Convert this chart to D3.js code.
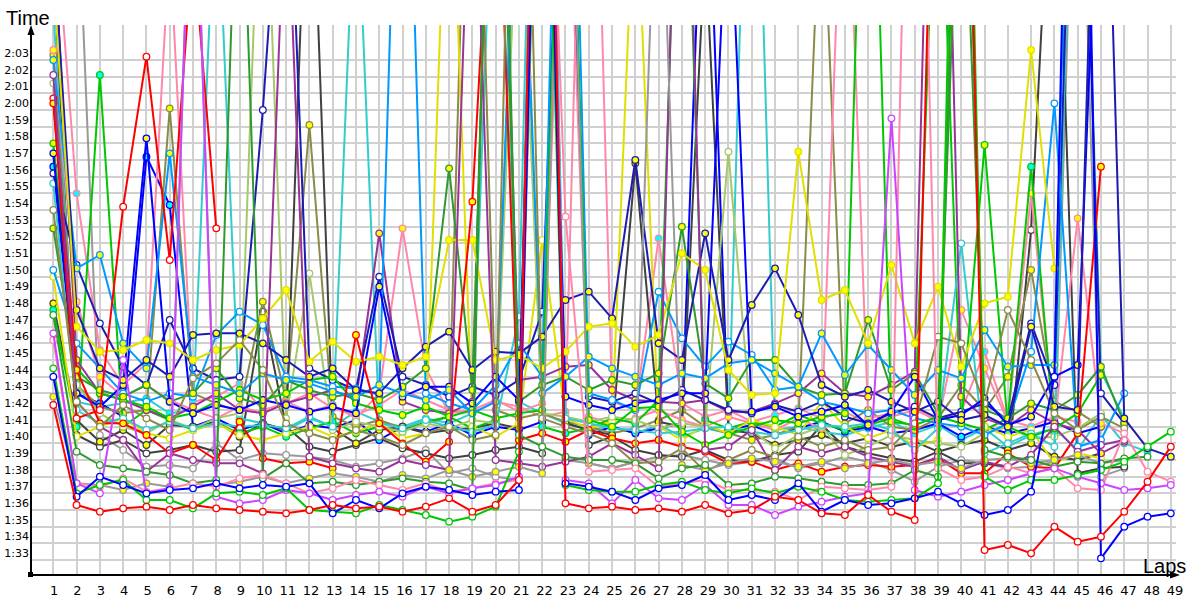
<!DOCTYPE html>
<html><head><meta charset="utf-8">
<script src="https://cdn.jsdelivr.net/npm/d3@7"></script>
<style>html,body{margin:0;padding:0;background:#fff;} svg{display:block;}</style>
</head><body><svg id="chart" width="1200" height="600"></svg>
<script>
// ---------- data (lap times in seconds) ----------
const laps = d3.range(1, 50);
const yTickLabels = ["1:33","1:34","1:35","1:36","1:37","1:38","1:39","1:40","1:41","1:42","1:43","1:44","1:45","1:46","1:47","1:48","1:49","1:50","1:51","1:52","1:53","1:54","1:55","1:56","1:57","1:58","1:59","2:00","2:01","2:02","2:03"];

const s01 = [102.3,96.3,95.9,96.1,96.2,96.0,96.3,96.1,96.0,95.9,95.8,96.0,96.3,96.1,96.2,95.9,96.2,96.7,95.9,96.3,97.8,165,96.4,96.1,96.2,96.0,96.1,95.9,96.3,95.8,96.0,96.8,96.6,95.8,95.7,96.9,95.9,95.4,150,160,93.6,93.9,93.4,95.0,94.1,94.4,95.9,97.7,99.8];
const s02 = [104.0,96.8,98.0,97.5,97.0,97.2,97.3,97.6,97.3,97.5,97.4,97.6,95.8,96.6,96.1,97.0,97.4,97.2,96.9,97.1,97.2,155,97.6,97.4,97.1,96.6,97.3,97.5,98.1,96.6,96.9,96.6,97.6,95.9,96.6,96.3,96.4,96.7,97.1,96.4,95.7,96.0,97.1,104.0,170,93.1,95.0,95.6,95.8];
const s03 = [104.5,97.0,97.5,97.8,96.6,96.6,96.1,97.0,97.1,96.9,97.3,96.0,95.9,95.8,96.3,96.0,95.7,95.3,95.6,96.2,99.5,150,97.5,97.2,97.1,97.1,97.5,97.7,97.2,97.0,97.3,97.0,97.4,97.1,96.6,96.5,96.6,96.7,97.6,160,98.0,97.2,97.8,97.8,98.1,98.4,98.9,99.8,100.7];
const s04 = [106.6,97.6,97.0,105.0,97.0,97.3,140,96.8,96.4,96.6,97.2,97.0,96.6,96.9,97.1,96.8,97.4,97.0,97.3,97.5,98.0,165,97.8,97.6,96.4,97.8,96.7,96.6,97.5,96.3,96.3,95.7,96.2,96.5,96.8,97.0,119.5,97.2,96.8,97.1,97.5,97.8,98.2,98.5,98.0,97.6,97.2,97.3,97.5];
const s05 = [106.2,97.6,97.4,97.9,97.1,97.3,97.6,97.4,97.9,98.1,97.6,97.0,97.3,97.8,97.5,97.2,97.6,97.1,97.3,97.6,97.8,150,113.6,98.3,98.4,98.5,97.4,97.6,97.8,97.2,97.2,97.1,96.6,97.4,97.3,97.2,97.4,160,98.5,97.8,98.0,98.6,98.2,98.5,97.3,97.2,100.6,98.3,97.7];
const s06 = [127,135,100.5,99.6,98.6,98.7,98.5,100.0,99.0,99.4,99.3,99.2,99.0,98.6,98.8,99.1,99.6,98.2,98.5,98.0,97.8,170,99.0,98.8,98.5,98.9,99.2,99.3,99.0,98.7,98.9,99.1,98.5,98.8,99.2,98.9,98.4,97.7,98.6,99.0,98.8,98.5,98.6,98.9,145,98.0,98.5];
const s07 = [107.7,99.5,98.7,98.5,98.3,98.1,97.6,97.8,140,97.9,98.8,97.6,97.7,97.5,97.7,97.9,97.7,97.6,97.2,160,100.5,99.8,99.2,99.0,99.0,98.8,97.9,98.5,98.7,97.5,97.6,98.0,97.9,97.7,97.5,97.5,97.6,98.4,98.0,150,99.6,99.2,99.0,98.6,98.9,98.8,99.1,99.2];
const s08 = [114.0,102.5,101.0,102.3,101.5,100.8,103.9,104.8,106.2,104.4,101.2,100.6,100.2,100.8,100.4,99.9,100.6,101.0,100.2,100.5,160,101.5,101.0,100.6,100.0,98.8,98.9,99.7,98.3,99.0,99.6,99.2,100.4,99.8,100.2,99.6,99.8,101.2,106.4,106.0,102.4,108.0,105.0,101.8,100.8,101.6,100.9];
const s09 = [129,100.5,99.8,100.2,99.4,99.6,99.9,99.5,99.6,107.9,101.0,99.8,99.5,99.9,100.3,99.7,99.4,99.1,99.3,99.6,99.8,99.4,150,99.9,100.4,99.6,99.3,99.2,99.6,99.0,98.9,99.3,99.5,101.1,99.8,99.4,99.1,98.9,99.5,98.8,98.8,98.6,112.8,140,98.2,98.5,98.6];
const s10 = [115.6,102.0,101.2,101.5,100.8,101.3,100.9,101.2,101.0,101.1,100.9,101.6,101.0,135,101.2,100.9,101.4,101.0,100.7,101.1,107.6,165,101.5,101.2,100.9,100.8,100.6,100.7,100.9,101.0,100.7,100.5,100.8,101.1,101.0,101.2,100.8,99.6,100.9,112.0,99.4,100.0,100.6,99.8,150,104.3,101.5];
const s11 = [110.4,106.0,104.5,103.0,102.5,103.0,102.8,106.5,107.9,107.1,104.0,103.8,103.4,103.3,102.9,150,103.0,102.4,102.0,103.5,106.0,104.0,160,103.0,102.6,102.0,109.1,106.3,104.6,106.1,105.3,103.2,103.4,102.5,102.2,101.8,102.0,101.5,101.2,101.0,100.5,101.2,105.5,120.4,99.8,100.2,103.0];
const s12 = [121.6,103.5,101.8,101.0,100.6,101.4,100.9,101.5,101.8,140,101.5,110.2,100.8,101.3,101.0,100.7,101.2,100.9,101.4,101.2,135,101.8,101.6,101.3,101.6,101.4,100.9,101.2,101.0,117.5,100.8,99.7,100.5,101.0,99.3,99.8,100.5,100.2,100.0,99.8,100.6,101.0,100.3,100.4,100.9,101.8];
const s13 = [130,108.0,104.5,103.8,105.0,104.0,106.5,106.6,106.6,106.0,105.0,104.0,104.5,103.2,103.0,104.5,105.8,106.7,104.4,105.5,105.4,106.4,108.6,109.1,107.5,117.0,106.0,105.0,112.6,105.0,108.3,110.5,107.7,103.5,102.8,103.2,102.5,101.9,102.5,101.4,101.7,101.0,107.0,102.2,102.0,150,101.5,99.7,99.2];
const s14 = [117.4,103.0,102.2,103.5,118.3,102.5,101.8,102.3,102.0,102.6,102.3,101.9,102.2,101.8,109.4,102.8,103.4,103.4,102.4,104.0,102.6,150,102.8,102.3,102.0,102.4,102.6,103.0,103.0,135,101.9,102.2,101.6,101.9,102.3,101.1,101.9,104.0,101.4,101.7,102.7,101.1,101.6,104.0,104.7,140];
const s15 = [123.0,110.5,111.3,106.0,104.5,117.4,104.0,103.5,103.0,104.2,103.8,103.6,103.1,102.8,103.5,103.0,102.6,103.2,101.8,102.5,140,103.0,104.0,105.2,104.5,104.0,103.5,104.2,103.9,104.8,105.0,104.2,103.4,106.6,104.1,105.9,104.4,102.9,104.4,103.9,106.8,104.6,104.7,104.7,160];
const s16 = [128,107.0,105.5,105.6,106.2,106.0,105.0,105.6,105.9,107.5,109.2,104.9,106.1,104.9,105.2,104.7,105.2,112.2,112.2,105.0,105.3,104.5,105.5,107.0,107.2,105.8,106.5,111.4,110.4,104.4,102.9,103.0,117.5,108.6,109.2,106.0,110.7,106.0,109.4,104.6,108.4,108.8,123.6,110.5];
const s17 = [118.0,104.5,103.0,102.6,102.2,101.5,101.8,102.5,103.2,102.6,103.0,103.8,104.0,102.4,102.0,101.7,102.2,101.6,102.0,101.5,101.8,102.0,150,101.4,101.0,102.1,102.2,100.7,99.9,100.5,101.0,101.4,101.2,101.6,101.8,150,101.3,101.1,101.6,101.2,117.9,101.0,100.4,100.9,101.8,104.1];
const s18 = [112.9,104.0,103.2,102.8,103.5,102.5,103.0,104.5,102.7,102.3,103.8,103.2,102.8,103.0,102.6,103.4,104.5,116.5,103.2,150,102.5,103.5,104.0,103.2,103.8,103.5,104.2,113.0,103.6,102.7,105.0,105.0,103.4,102.9,103.0,107.4,103.2,104.2,101.8,140,102.0,101.5,102.4,102.0,102.9,104.6,101.2];
const s19 = [122.1,102.5,101.0,100.2,98.3,99.4,99.0,98.8,98.8,98.2,135,99.2,98.8,98.5,98.3,99.0,98.7,98.4,140,99.0,98.8,98.6,98.9,99.2,100.0,99.3,98.5,150,99.6,99.8,100.8,98.4,99.8,99.4,99.8,99.2,98.9,98.6,99.2,98.4,98.9,98.6,99.3,101.0,99.5,99.9,100.2];
const s20 = [131,105.0,103.0,102.6,102.0,101.5,102.2,103.0,102.0,101.8,102.4,102.8,103.2,102.6,112.6,102.5,102.0,101.8,102.5,150,103.8,104.0,104.6,104.7,103.2,102.6,102.5,102.4,102.6,101.9,101.9,102.4,103.0,104.2,103.0,102.8,103.5,104.3,160,102.8,101.5,101.0,102.0,101.2,100.8,99.4,100.1];
const s21 = [120.4,104.4,101.2,101.2,100.5,99.4,99.9,99.0,101.3,99.1,98.8,98.9,98.5,106.5,101.2,100.0,98.9,100.1,114.5,140,100.2,100.6,100.1,100.8,100.3,100.0,100.2,99.8,99.5,98.8,98.9,98.4,98.8,98.3,98.6,98.7,98.6,98.7,99.1,98.2,98.2,99.4,98.6,98.5,100.6,116.6];
const s22 = [120.7,101.5,102.0,114.2,123.2,111.0,130,112.9];
const s23 = [116.2,110.7,107.2,104.6,103.5,107.4,104.5,103.8,104.0,120.0,140,104.5,103.8,103.2,110.0,104.0,103.5,102.8,103.4,102.9,103.8,107.9,145,102.8,102.5,103.0,102.4,103.2,102.6,102.0,101.8,102.3,101.9,102.5,101.6,101.2,101.8,102.2,101.5,101.9,102.4,101.4,107.2,103.5,150,103.0,101.2];
const s24 = [126,102.5,102.2,102.4,102.7,101.8,102.0,135,101.5,101.2,100.8,101.5,101.0,101.9,101.3,101.0,101.5,101.2,101.8,140,102.5,101.8,101.2,100.8,101.0,100.6,101.1,100.4,100.9,100.6,150,100.8,101.0,100.7,100.5,100.9,101.3,100.6,101.1,100.2,100.9,99.8,100.5,100.9,99.6,101.7,100.0,99.5];
const s25 = [110.0,100.4,101.0,101.5,100.6,100.3,100.8,101.2,100.5,100.2,100.6,101.0,100.4,100.7,101.2,100.3,100.6,140,101.0,100.4,101.2,112.2,101.5,100.9,101.3,135,101.0,100.2,101.1,100.6,101.4,101.0,100.5,102.5,101.0,100.3,100.8,99.8,100.2,150,101.0,100.4,100.8,98.8,99.4,99.1];
const s26 = [123.6,108.5,104.0,102.8,103.5,102.6,102.0,101.5,102.2,101.8,102.5,101.9,102.3,101.5,103.0,112.9,104.5,101.8,102.0,102.6,101.9,102.4,140,101.6,101.2,101.5,102.0,101.4,101.0,101.6,101.2,100.8,101.5,100.9,140,101.5,101.8,102.2,101.2,108.0,104.5,101.3,115.0,101.0,113.5,101.2,100.6];
const s27 = [108.4,101.4,100.1,100.8,99.9,101.1,101.0,101.3,100.4,101.2,100.8,140,100.9,100.0,100.8,101.0,100.6,100.8,100.9,101.2,100.9,160,101.2,100.8,100.5,116.8,101.3,101.0,130,100.8,100.6,99.9,100.2,100.5,100.0,100.3,99.8,100.1,99.5,99.9,100.2,99.6,100.0,99.2,99.0,99.4];
const s28 = [123.3,103.5,102.2,101.8,102.0,120.1,103.0,102.4,101.9,108.5,102.6,119.1,101.6,101.0,101.4,100.9,101.2,101.6,150,102.0,101.5,101.8,101.3,101.0,100.6,100.9,101.4,102.0,101.0,100.6,100.2,100.5,101.0,135,101.2,102.0,101.0,100.8,101.5,103.5,102.0,104.0,110.4,102.5,101.9,101.0];
const s29 = [102.8,97.6,97.5,97.2,97.6,97.4,140,97.5,97.7,98.0,97.6,97.9,98.2,98.0,97.7,98.1,97.9,98.4,98.0,98.3,98.6,98.2,150,98.8,98.5,98.9,140,98.7,98.4,98.8,99.1,98.9,98.6,98.9,98.5,98.8,99.0,98.7,98.9,98.5,99.0,99.1,98.8,99.0,99.3,98.8,99.0];
const s30 = [108.0,101.0,122.1,101.0,102.0,101.4,100.8,101.2,100.6,101.0,100.4,100.9,101.3,100.6,101.0,100.7,101.3,101.6,100.9,101.4,140,101.0,100.6,100.9,101.5,101.2,102.6,145,101.4,100.9,101.3,101.0,101.7,101.2,100.8,101.1,101.5,101.0,140,101.2,100.8,101.5,116.6,100.6];
const s31 = [133,115.0,105.6,103.5,104.8,130,102.5,102.8,103.6,102.0,102.4,103.0,102.1,101.7,102.3,103.2,102.6,102.0,101.8,102.5,102.2,101.6,101.9,155,102.5,102.0,112.3,102.4,101.6,102.0,101.3,101.7,102.1,101.5,101.9,101.2,101.6,102.0,101.4,101.9,105.5,101.4,101.0,101.6,101.3];
const s32 = [116.6,103.0,102.4,101.6,117.2,114.3,101.0,101.5,100.8,101.2,100.6,101.1,100.9,101.4,100.2,101.0,100.7,101.2,100.5,101.0,100.8,101.3,150,100.5,101.0,100.6,100.9,101.2,140,100.8,101.1,100.5,100.9,101.3,100.7,101.0,100.6,100.8,101.2,100.4,101.0,100.6,100.9,101.3,100.6,101.0];

// ---------- styles ----------
const seriesList = [s06,s09,s24,s32,s31,s28,s27,s26,s30,s25,s12,s10,s20,s23,s11,s17,s18,s14,s15,s13,s16,s22,s21,s19,s08,s29,s07,s05,s04,s03,s02,s01];
const seriesStroke = ["#999999","#404040","#33cccc","#0000ff","#ff88aa","#8a8a4a","#404040","#ff88aa","#00c800","#e0e000","#a6c86a","#33cccc","#993399","#1c1cb0","#0099ff","#00c800","#2e9a2e","#0000ff","#0099ff","#1c1cb0","#e0e000","#ff0000","#ff0000","#993399","#8a8a4a","#999999","#2e9a2e","#ff88aa","#cc44ff","#00c800","#0000ff","#ff0000"];
const seriesFill = ["#ffffff","#ffffff","#00ffff","#00ffff","#00ffff","#ffff00","#ffff00","#ffff00","#00ffff","#ffffff","#ffffff","#ffffff","#ffff00","#ffffff","#ffffff","#ffff00","#ffff00","#ffff00","#ffff00","#ffff00","#ffff00","#ffffff","#ffff00","#ffffff","#ffffff","#ffff00","#ffffff","#ffffff","#ffffff","#ffffff","#ffffff","#ffffff"];

(function draw() {
  const parseT = s => { const [m, sec] = s.split(":"); return (+m) * 60 + (+sec); };
  const yTickValues = yTickLabels.map(parseT);

  const svg = d3.select("#chart");
  const pLeft = 31, pBottom = 575, pTop = 25, pRight = 1180;
  const x = d3.scaleLinear().domain([1, 49]).range([53.3, 1170.8]);
  const xLab = d3.scaleLinear().domain([1, 49]).range([53.6, 1174.6]);
  const y = d3.scaleLinear().domain([93, 123]).range([560, 60]);

  svg.append("rect").attr("width", 1200).attr("height", 600).attr("fill", "#fff");

  const grid = svg.append("g").attr("stroke", "#d0d0d0").attr("stroke-width", 1.2).attr("shape-rendering", "crispEdges");
  grid.selectAll("line.h").data(yTickValues).join("line").attr("class", "h")
    .attr("x1", pLeft).attr("x2", 1176).attr("y1", d => Math.round(y(d))).attr("y2", d => Math.round(y(d)));
  grid.selectAll("line.v").data(laps).join("line").attr("class", "v")
    .attr("y1", pTop).attr("y2", pBottom).attr("x1", d => Math.round(x(d))).attr("x2", d => Math.round(x(d)));

  svg.append("clipPath").attr("id", "clip").append("rect")
    .attr("x", pLeft).attr("y", pTop).attr("width", 1200 - pLeft).attr("height", pBottom - pTop);

  const plot = svg.append("g").attr("clip-path", "url(#clip)");
  const line = d3.line().x((d, i) => x(i + 1)).y(d => y(d));

  seriesList.forEach((data, k) => {
    const g = plot.append("g");
    g.append("path").attr("d", line(data)).attr("fill", "none")
      .attr("stroke", seriesStroke[k]).attr("stroke-width", 2).attr("stroke-linejoin", "round");
    g.selectAll("circle").data(data).join("circle")
      .attr("cx", (d, i) => x(i + 1)).attr("cy", d => y(d)).attr("r", 3.3)
      .attr("fill", seriesFill[k]).attr("stroke", seriesStroke[k]).attr("stroke-width", 1.3);
  });

  const yAxis = d3.axisLeft(y).tickValues(yTickValues).tickFormat((d, i) => yTickLabels[i]).tickSize(0).tickPadding(0);
  const gy = svg.append("g").attr("transform", "translate(29,0)").call(yAxis);
  gy.select(".domain").remove();
  gy.selectAll("text").attr("dy", "-3.5").attr("font-family", "DejaVu Sans, Verdana, sans-serif").attr("font-size", 11).attr("fill", "#000");

  const xAxis = d3.axisBottom(xLab).tickValues(laps).tickFormat(d => String(d)).tickSize(0);
  const gx = svg.append("g").attr("transform", `translate(0,${pBottom})`).call(xAxis);
  gx.select(".domain").remove();
  gx.selectAll("text").attr("y", 20).attr("dy", 0).attr("font-family", "DejaVu Sans, Verdana, sans-serif").attr("font-size", 13).attr("fill", "#000");

  svg.append("line").attr("x1", pLeft).attr("x2", pLeft).attr("y1", pBottom).attr("y2", pTop + 4)
    .attr("stroke", "#000").attr("stroke-width", 2);
  svg.append("line").attr("x1", pLeft).attr("x2", pRight - 4).attr("y1", pBottom).attr("y2", pBottom)
    .attr("stroke", "#000").attr("stroke-width", 2);
  svg.append("path").attr("d", `M${pLeft},${pTop} L${pLeft - 3.5},${pTop + 10} L${pLeft + 3.5},${pTop + 10} Z`).attr("fill", "#000");
  svg.append("path").attr("d", `M${pRight},${pBottom} L${pRight - 10},${pBottom - 3.5} L${pRight - 10},${pBottom + 3.5} Z`).attr("fill", "#000");
  svg.append("rect").attr("x", pLeft - 3).attr("y", pBottom - 3).attr("width", 5).attr("height", 5).attr("fill", "#000");

  svg.append("text").attr("x", 6).attr("y", 25).text("Time")
    .attr("font-family", "Liberation Sans, Arial, sans-serif").attr("font-size", 20).attr("fill", "#000");
  svg.append("text").attr("x", 1143).attr("y", 573).text("Laps")
    .attr("font-family", "Liberation Sans, Arial, sans-serif").attr("font-size", 20).attr("fill", "#000");
})();
</script>
</body></html>
